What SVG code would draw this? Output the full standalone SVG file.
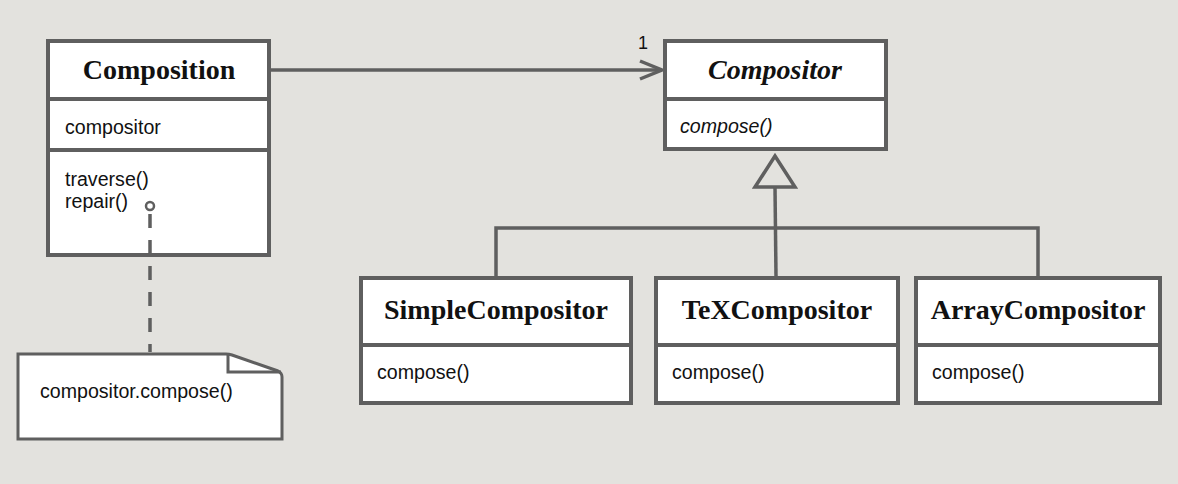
<svg xmlns="http://www.w3.org/2000/svg" width="1178" height="484" viewBox="0 0 1178 484">
<style>
.bg{fill:#e3e2de}
.box{fill:#ffffff;stroke:#5f5f5f;stroke-width:4}
.sep{stroke:#5f5f5f;stroke-width:4;fill:none}
.title{font-family:"Liberation Serif",serif;font-weight:bold;font-size:28px;fill:#111;text-anchor:middle}
.ital{font-style:italic}
.txt{font-family:"Liberation Sans",Arial,sans-serif;font-size:19.6px;fill:#111}
.conn{stroke:#5f5f5f;stroke-width:3.5;fill:none}
</style>
<rect class="bg" x="0" y="0" width="1178" height="484"/>
<g id="Composition">
  <rect class="box" x="48" y="41" width="221" height="214"/>
  <line class="sep" x1="48" y1="99" x2="269" y2="99"/>
  <line class="sep" x1="48" y1="150" x2="269" y2="150"/>
  <text class="title" x="159" y="79">Composition</text>
  <text class="txt" x="65" y="134">compositor</text>
  <text class="txt" x="65" y="186">traverse()</text>
  <text class="txt" x="65" y="208">repair()</text>
</g>
<g id="Compositor">
  <rect class="box" x="665" y="41" width="221" height="108"/>
  <line class="sep" x1="665" y1="99" x2="886" y2="99"/>
  <text class="title ital" x="775" y="79">Compositor</text>
  <text class="txt ital" x="680" y="133">compose()</text>
</g>
<g id="SimpleCompositor">
  <rect class="box" x="361" y="278" width="270" height="125"/>
  <line class="sep" x1="361" y1="345" x2="631" y2="345"/>
  <text class="title" x="496" y="319">SimpleCompositor</text>
  <text class="txt" x="377" y="379">compose()</text>
</g>
<g id="TeXCompositor">
  <rect class="box" x="656" y="278" width="242" height="125"/>
  <line class="sep" x1="656" y1="345" x2="898" y2="345"/>
  <text class="title" x="777" y="319">TeXCompositor</text>
  <text class="txt" x="672" y="379">compose()</text>
</g>
<g id="ArrayCompositor">
  <rect class="box" x="916" y="278" width="244" height="125"/>
  <line class="sep" x1="916" y1="345" x2="1160" y2="345"/>
  <text class="title" x="1038" y="319">ArrayCompositor</text>
  <text class="txt" x="932" y="379">compose()</text>
</g>
<g id="Note">
  <path d="M18,354 L226,354 Q229,354 232,355 L278,371 Q282,373 282,377 L282,439 L18,439 Z" fill="#ffffff" stroke="#5f5f5f" stroke-width="3"/>
  <polyline points="228,355 228,372 281,372" fill="none" stroke="#5f5f5f" stroke-width="3"/>
  <text class="txt" x="40" y="398">compositor.compose()</text>
</g>
<g id="connectors">
  <line class="conn" x1="271" y1="70" x2="662" y2="70"/>
  <polyline class="conn" points="640,61 662,70 640,79"/>
  <text class="txt" x="638" y="49" style="font-size:18px">1</text>
  <polygon points="775,156 755,187 795,187" fill="#e3e2de" stroke="#5f5f5f" stroke-width="3.5"/>
  <line class="conn" x1="775" y1="187" x2="776" y2="276"/>
  <polyline class="conn" points="496,276 496,228 1038,228 1038,276"/>
  <line class="conn" x1="150" y1="214" x2="150" y2="352" stroke-dasharray="14,12"/>
  <circle cx="150" cy="206" r="4" fill="#ffffff" stroke="#5f5f5f" stroke-width="2.5"/>
</g>
</svg>
